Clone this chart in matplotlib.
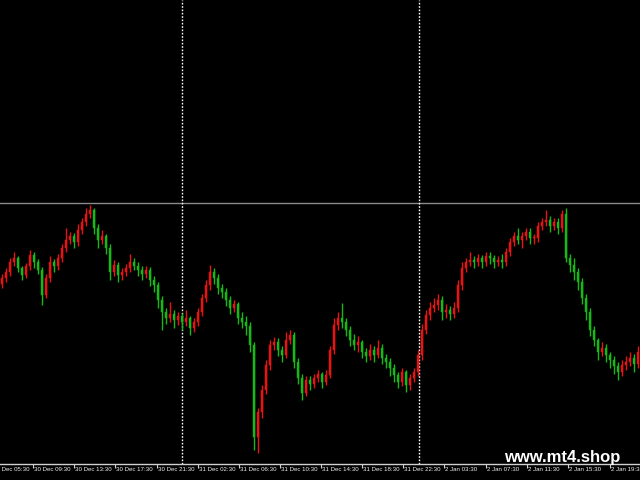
import matplotlib
matplotlib.use("Agg")
import matplotlib.pyplot as plt
from matplotlib.patches import Rectangle

# ---- data (price units, bar index = time order) ----
opens = [196, 202, 208, 218, 222, 212, 205, 214, 225, 218,
         210, 185, 202, 218, 214, 222, 232, 240, 244, 238,
         250, 258, 266, 270, 252, 240, 244, 232, 208, 215,
         205, 208, 212, 218, 214, 210, 206, 210, 200, 195,
         180, 168, 162, 166, 160, 164, 158, 162, 152, 158,
         168, 182, 195, 208, 202, 192, 188, 180, 172, 176,
         162, 158, 154, 135, 43, 68, 90, 115, 135, 138,
         130, 125, 140, 145, 118, 102, 87, 100, 96, 102,
         106, 98, 105, 130, 155, 162, 158, 150, 140, 135,
         138, 128, 124, 130, 125, 132, 122, 118, 112, 105,
         98, 108, 95, 102, 108, 125, 150, 165, 172, 175,
         180, 168, 170, 166, 172, 195, 212, 218, 220, 218,
         222, 218, 224, 222, 218, 220, 218, 228, 238, 244,
         240, 244, 248, 242, 242, 254, 258, 260, 254, 258,
         252, 266, 222, 215, 208, 198, 182, 168, 150, 140,
         128, 132, 125, 120, 114, 108, 115, 118, 122, 116]
closes = [202, 208, 218, 222, 212, 205, 214, 225, 218, 210,
          185, 202, 218, 214, 222, 232, 240, 244, 238, 250,
          258, 266, 270, 252, 240, 244, 232, 208, 215, 205,
          208, 212, 218, 214, 210, 206, 210, 200, 195, 180,
          168, 162, 166, 160, 164, 158, 162, 152, 158, 168,
          182, 195, 208, 202, 192, 188, 180, 172, 176, 162,
          158, 154, 135, 43, 68, 90, 115, 135, 138, 130,
          125, 140, 145, 118, 102, 87, 100, 96, 102, 106,
          98, 105, 130, 155, 162, 158, 150, 140, 135, 138,
          128, 124, 130, 125, 132, 122, 118, 112, 105, 98,
          108, 95, 102, 108, 125, 150, 165, 172, 175, 180,
          168, 170, 166, 172, 195, 212, 218, 220, 218, 222,
          218, 224, 222, 218, 220, 218, 228, 238, 244, 240,
          244, 248, 242, 242, 254, 258, 260, 254, 258, 252,
          266, 222, 215, 208, 198, 182, 168, 150, 140, 128,
          132, 125, 120, 114, 108, 115, 118, 122, 116, 128]
highs = [206, 212, 222, 228, 224, 214, 217, 230, 228, 221,
         213, 206, 224, 221, 226, 236, 252, 248, 247, 256,
         262, 272, 275, 272, 256, 250, 246, 236, 220, 218,
         212, 216, 226, 222, 218, 214, 214, 213, 204, 198,
         184, 172, 178, 170, 168, 167, 170, 164, 162, 172,
         186, 200, 215, 212, 206, 196, 192, 184, 180, 178,
         168, 164, 158, 138, 72, 95, 120, 140, 143, 142,
         134, 148, 150, 148, 122, 106, 104, 104, 106, 110,
         108, 110, 134, 162, 168, 177, 162, 154, 146, 144,
         140, 132, 136, 134, 140, 136, 126, 122, 116, 108,
         112, 110, 106, 112, 130, 156, 170, 178, 182, 186,
         184, 176, 174, 178, 200, 218, 222, 228, 224, 226,
         225, 228, 228, 225, 224, 226, 232, 242, 248, 252,
         248, 252, 252, 246, 258, 262, 270, 264, 262, 262,
         270, 272, 226, 222, 212, 202, 186, 172, 154, 142,
         138, 136, 128, 124, 118, 120, 124, 128, 126, 134]
lows = [192, 198, 204, 214, 208, 200, 202, 210, 212, 206,
        175, 182, 198, 208, 210, 218, 228, 236, 232, 234,
        246, 254, 262, 246, 232, 236, 226, 200, 204, 198,
        200, 204, 208, 210, 204, 200, 202, 194, 188, 172,
        150, 156, 158, 152, 155, 150, 154, 145, 148, 154,
        164, 178, 190, 196, 186, 182, 174, 166, 168, 156,
        152, 145, 128, 30, 27, 62, 86, 110, 130, 124,
        118, 122, 136, 112, 96, 80, 84, 90, 92, 98,
        92, 95, 102, 126, 150, 152, 144, 134, 130, 128,
        122, 118, 120, 118, 122, 116, 112, 104, 98, 92,
        94, 88, 90, 98, 104, 120, 146, 160, 168, 170,
        160, 162, 160, 162, 168, 190, 208, 214, 212, 214,
        212, 214, 216, 212, 214, 212, 214, 224, 234, 236,
        232, 240, 236, 236, 238, 250, 254, 248, 250, 246,
        248, 218, 208, 200, 190, 176, 160, 144, 134, 120,
        124, 118, 112, 106, 100, 104, 110, 114, 108, 112]

tick_pos = [-2.5, 7.75, 18, 28.25, 38.75, 49, 59.25, 69.5, 79.75, 90,
            100.25, 110.5, 121, 131.25, 141.5, 152]
tick_labels = ["30 Dec 05:30", "30 Dec 09:30", "30 Dec 13:30", "30 Dec 17:30",
               "30 Dec 21:30", "31 Dec 02:30", "31 Dec 06:30", "31 Dec 10:30",
               "31 Dec 14:30", "31 Dec 18:30", "31 Dec 22:30", "2 Jan 03:30",
               "2 Jan 07:30", "2 Jan 11:30", "2 Jan 15:30", "2 Jan 19:30"]
day_separators = [45, 104.25]
price_line = 277

UP = "#e81414"
DOWN = "#18b818"

fig = plt.figure(figsize=(6.4, 4.8), dpi=100, facecolor="black")
ax = fig.add_axes([0, 16 / 480, 1, 464 / 480], facecolor="black")

for i, (o, c, h, l) in enumerate(zip(opens, closes, highs, lows)):
    col = UP if c >= o else DOWN
    ax.vlines(i, l, h, color=col, linewidth=1.0, zorder=3)
    ax.add_patch(Rectangle((i - 0.36, min(o, c)), 0.72, max(abs(c - o), 0.6),
                           facecolor=col, edgecolor=col, linewidth=0.3, zorder=4))

ax.axhline(price_line, color="#8a8a8a", linewidth=1.0, zorder=2)
for s in day_separators:
    ax.axvline(s, color="white", linewidth=1.0, linestyle=(0, (1.2, 1.2)), zorder=2)

ax.set_xlim(-0.5, len(closes) - 0.5)
ax.set_ylim(16, 480)

for side in ["top", "right", "left"]:
    ax.spines[side].set_visible(False)
ax.spines["bottom"].set_color("#d0d0d0")
ax.spines["bottom"].set_linewidth(1.0)
ax.set_yticks([])
visible_ticks = [p for p in tick_pos if p >= -0.5]
ax.set_xticks(visible_ticks)
ax.set_xticklabels([])
ax.tick_params(axis="x", direction="out", length=3, width=0.8, color="#d0d0d0")

for p, lab in zip(tick_pos, tick_labels):
    ax.annotate(lab, xy=(p, 0), xycoords=("data", "axes fraction"),
                xytext=(1, -2.5), textcoords="offset points",
                ha="left", va="top", color="#f0f0f0", fontsize=4.4,
                family="Liberation Sans", annotation_clip=False)

fig.text(562 / 640, 1 - 462 / 480, "www.mt4.shop", color="white",
         fontsize=12, fontweight="bold", family="Liberation Sans",
         ha="center", va="baseline")

fig.savefig("out.png", dpi=100, facecolor="black")
